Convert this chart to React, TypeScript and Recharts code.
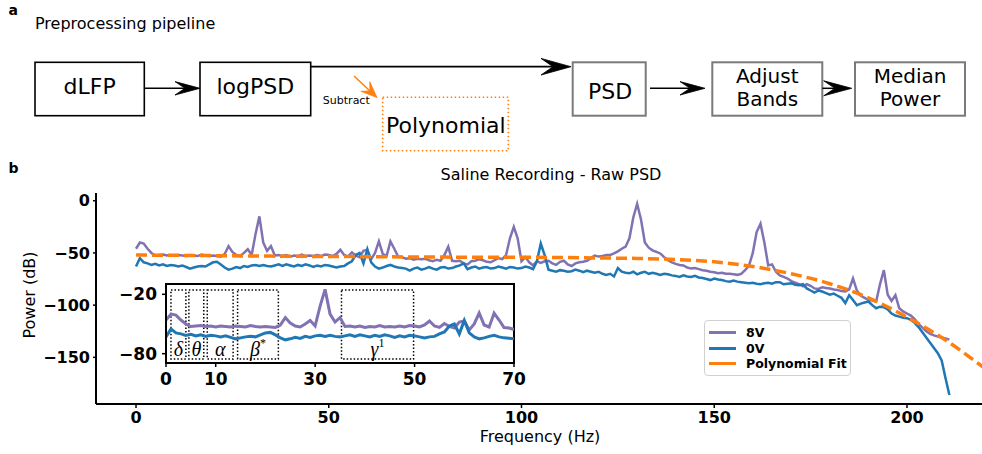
import { Legend, Line, LineChart, ReferenceArea, XAxis, YAxis } from 'recharts';

// PSD values in dB, one per Hz (index = frequency)
const power8V = [
  -46, -40, -41, -46, -50, -52.5, -52, -51.5, -52.5, -52,
  -53, -52, -52.5, -53, -52, -52.5, -53, -51.5, -52.5, -53,
  -52.5, -53, -53.5, -51, -43.5, -49, -52, -53, -50, -46.5,
  -52, -32, -15, -40, -48, -43.5, -52.5, -52, -53, -52,
  -53.5, -52.5, -53, -51.5, -53, -52.5, -53, -52, -53, -51.5,
  -52, -53, -51, -47, -52, -53.5, -49.5, -52.5, -54, -48,
  -47, -56, -50, -39, -51, -53, -39, -46, -53.5, -54,
  -55.5, -55, -56.5, -55.5, -56, -55.5, -57, -58, -56.5, -57.5,
  -52, -44, -57.5, -58, -57.5, -60, -61, -58, -57.5, -56,
  -57, -58.5, -59, -57, -55, -56, -52, -36, -25, -36,
  -58, -54, -59, -62, -58, -59.5, -58, -57.5, -60, -61.5,
  -58.5, -57.5, -61, -62.5, -60, -59, -58.5, -57.5, -55, -52.5,
  -53.5, -53, -52, -52, -50.5, -48.5, -46, -44, -36, -16,
  -3, -18, -40, -45, -47.5, -49, -50.5, -54, -57, -59,
  -60.5, -61.5, -62, -64, -65, -64.5, -65.5, -66.5, -67, -68,
  -68.5, -69.5, -69, -70, -70, -70.5, -71, -70, -66.5, -62.5,
  -50, -30, -22, -40, -62, -61, -68, -71.5, -73, -74.5,
  -77, -78.5, -80, -82, -80, -81.5, -84, -84.5, -83, -83.5,
  -84, -85, -85.5, -86.5, -87, -85, -74.5, -86, -91, -93,
  -95, -95.5, -96.5, -80, -66.5, -90, -96, -90.5, -103, -106,
  -108, -110, -113.5, -118, -121.5, -125, -127.5, -129, -130, -131,
  -132, -133,
];

const power0V = [
  -63, -55, -59, -60, -61.5, -60.5, -62, -61, -62.5, -61.5,
  -62, -63, -62, -63.5, -65, -64, -63, -62.5, -63, -61,
  -59, -58.5, -61, -64, -66, -65, -63.5, -64.5, -62.5, -63.5,
  -62, -61.5, -62.5, -61.5, -62.5, -63, -62, -61, -62.5, -61,
  -62, -63, -61.5, -62.5, -61, -62, -63.5, -62, -63, -61.5,
  -62, -63, -64, -63, -62.5, -60, -58, -52, -50, -60,
  -46.5, -59, -63, -65, -64, -62.5, -61.5, -63, -64, -64.5,
  -65, -67, -65, -64, -66, -65, -63.5, -65, -66, -64,
  -63.5, -65, -64.5, -63, -62, -60, -65.5, -64, -63, -65,
  -64, -63.5, -65, -64.5, -63, -64, -65, -63.5, -64, -65,
  -64.5, -63, -64, -65.5, -58, -41, -52, -66, -67, -68,
  -66.5, -67, -68, -67.5, -66, -67, -68.5, -67, -68, -69,
  -68, -70, -71, -70, -72.5, -64.5, -68, -69, -69.5, -68,
  -70.5, -69, -68, -70, -69, -70, -71, -70, -70.5, -71.5,
  -72, -73, -71.5, -72.5, -73, -72, -73.5, -74, -75, -76,
  -74.5, -75.5, -76, -77, -77.5, -76.5, -77.5, -78, -78.5, -79,
  -78.5, -79.5, -80, -79, -78.5, -79.5, -78, -78, -80, -79.5,
  -79, -80.5, -81, -80, -84, -86, -88, -86, -87, -88.5,
  -90, -89, -91, -93, -98, -90.5, -95, -100, -98.5, -97.5,
  -96.5, -100, -103, -101.5, -102, -104, -108, -110, -111, -112,
  -112.5, -114, -117, -121, -126, -131, -136, -141, -146, -153,
  -170, -186,
];

const fitHz = [0, 10, 20, 30, 40, 50, 60, 70, 80, 90, 100, 110, 120, 130, 140, 150, 160, 170, 180, 190, 200, 210, 220];
const fitDb = [-52, -52.3, -52.6, -52.9, -53.2, -53.4, -53.6, -53.8, -54, -54.1, -54.2, -54.4, -54.8, -55.3, -56.3, -58.5, -63, -70, -79.5, -93, -111.5, -133.5, -160];

const mainTicksX = [0, 50, 100, 150, 200];
const mainTicksY = [0, -50, -100, -150];
const insetTicksX = [0, 10, 30, 50, 70];
const insetTicksY = [-20, -80];

const bandNames = ['δ', 'θ', 'α', 'β', 'γ'];
const bandSup = ['', '', '', '*', '1'];
const bandLo = [1, 4.6, 8.3, 14.4, 35.3];
const bandHi = [4, 7.6, 13.5, 22.6, 49.8];

const legendOrder = ['8V', '0V', 'Polynomial Fit'];

const PURPLE = '#8172b3';
const BLUE = '#1f77b4';
const ORANGE = '#ff7f0e';
const FONT = '"DejaVu Sans", sans-serif';

const psd = power8V.map((v, i) => ({ hz: i, v8: v, v0: power0V[i] }));
const fit = fitHz.map((hz, i) => ({ hz, fit: fitDb[i] }));
const insetPsd = psd.filter((d) => d.hz <= 70);

const fmt = (v: number) => (v < 0 ? `\u2212${-v}` : `${v}`);

function LegendBox({ payload }: any) {
  const items = [...(payload ?? [])].sort(
    (a: any, b: any) => legendOrder.indexOf(a.value) - legendOrder.indexOf(b.value),
  );
  return (
    <div
      style={{
        width: 147,
        height: 56,
        boxSizing: 'border-box',
        border: '1px solid #d0d0d0',
        borderRadius: 4,
        background: '#fff',
        padding: '4px 0 0 4px',
      }}
    >
      {items.map((p: any) => (
        <div key={p.value} style={{ display: 'flex', alignItems: 'center', height: 15.5 }}>
          <span style={{ width: 27, height: 3, background: p.color, marginRight: 10 }} />
          <span style={{ font: `bold 12.5px ${FONT}`, color: '#000', whiteSpace: 'nowrap' }}>{p.value}</span>
        </div>
      ))}
    </div>
  );
}

const bandLabel = (i: number) => (p: any) => {
  const { x, y, width, height } = p.viewBox;
  return (
    <text
      x={x + width / 2}
      y={y + height - 3.5}
      textAnchor="middle"
      fontFamily='"Liberation Serif", serif'
      fontStyle="italic"
      fontSize={20}
      fill="#000"
    >
      {bandNames[i]}
      {bandSup[i] && (
        <tspan fontSize={12} dy={-9} fontStyle="normal">
          {bandSup[i]}
        </tspan>
      )}
    </text>
  );
};

function arrow(x1: number, y1: number, x2: number, y2: number, len: number, half: number) {
  const d = Math.hypot(x2 - x1, y2 - y1);
  const ux = (x2 - x1) / d;
  const uy = (y2 - y1) / d;
  const bx = x2 - ux * len;
  const by = y2 - uy * len;
  const nx = x2 - ux * len * 0.6;
  const ny = y2 - uy * len * 0.6;
  return {
    shaft: `M${x1},${y1} L${nx},${ny}`,
    head: `M${x2},${y2} L${bx - uy * half},${by + ux * half} L${nx},${ny} L${bx + uy * half},${by - ux * half} Z`,
  };
}

function Arrow({ from, to, len, half, color = '#000', width = 1.5 }: any) {
  const a = arrow(from[0], from[1], to[0], to[1], len, half);
  return (
    <g>
      <path d={a.shaft} stroke={color} strokeWidth={width} fill="none" />
      <path d={a.head} fill={color} stroke={color} strokeWidth={0.8} strokeLinejoin="miter" />
    </g>
  );
}

// two-line box caption, tight line spacing like the reference
function TwoLine({ x, lines }: any) {
  return (
    <>
      <text x={x} y={82.5} fontFamily={FONT} fontSize={20} textAnchor="middle" fill="#000">{lines[0]}</text>
      <text x={x} y={105.8} fontFamily={FONT} fontSize={20} textAnchor="middle" fill="#000">{lines[1]}</text>
    </>
  );
}

function Pipeline() {
  const txt = { fontFamily: FONT, fontSize: 22, textAnchor: 'middle' as const, fill: '#000' };
  return (
    <svg width={982} height={454} style={{ position: 'absolute', left: 0, top: 0 }}>
      <text x={8.5} y={15} fontFamily={FONT} fontWeight="bold" fontSize={14}>a</text>
      <text x={35} y={29} fontFamily={FONT} fontSize={16}>Preprocessing pipeline</text>

      <rect x={35} y={62.3} width={109.3} height={53.4} fill="none" stroke="#000" strokeWidth={1.6} />
      <text x={89.7} y={94} {...txt}>dLFP</text>
      <rect x={200} y={62.3} width={110.7} height={53.4} fill="none" stroke="#000" strokeWidth={1.6} />
      <text x={255.3} y={93.5} {...txt}>logPSD</text>

      <rect x={572.7} y={62.3} width={73} height={53.4} fill="none" stroke="#7a7a7a" strokeWidth={2} />
      <text x={610} y={99} {...txt}>PSD</text>
      <rect x={712.3} y={62.3} width={110} height={53.4} fill="none" stroke="#7a7a7a" strokeWidth={2} />
      <TwoLine x={767.3} lines={['Adjust', 'Bands']} />
      <rect x={855} y={62.3} width={110} height={53.4} fill="none" stroke="#7a7a7a" strokeWidth={2} />
      <TwoLine x={910} lines={['Median', 'Power']} />

      <rect x={382.7} y={97.3} width={125.6} height={53.4} fill="none" stroke={ORANGE} strokeWidth={1.6} strokeDasharray="1.5 2.5" />
      <text x={445.8} y={133.3} {...txt}>Polynomial</text>
      <text x={346.3} y={104} fontFamily={FONT} fontSize={11} textAnchor="middle">Subtract</text>

      <Arrow from={[144.3, 88.3]} to={[200, 88.3]} len={25} half={6.7} />
      <Arrow from={[310.7, 66.7]} to={[571, 66.7]} len={30} half={8.3} width={1.8} />
      <Arrow from={[650, 88.3]} to={[705, 88.3]} len={25} half={6.7} />
      <Arrow from={[822.3, 88.3]} to={[851.7, 88.3]} len={28} half={7.5} />
      <Arrow from={[354, 76]} to={[377, 97.5]} len={16} half={6.5} color={ORANGE} />

      <text x={8.5} y={172.7} fontFamily={FONT} fontWeight="bold" fontSize={14}>b</text>
      <text x={551} y={180} fontFamily={FONT} fontSize={16} textAnchor="middle">Saline Recording - Raw PSD</text>
      <text x={540} y={442} fontFamily={FONT} fontSize={16} textAnchor="middle">Frequency (Hz)</text>
      <text x={35} y={295} fontFamily={FONT} fontSize={16} textAnchor="middle" transform="rotate(-90 35 295)">
        Power (dB)
      </text>
    </svg>
  );
}

const mainTick = { fill: '#000', fontSize: 16, fontWeight: 'bold', fontFamily: FONT };
const insetTick = { fill: '#000', fontSize: 17, fontWeight: 'bold', fontFamily: FONT };
const axisLine = { stroke: '#000', strokeWidth: 2 };
const tickLine = { stroke: '#000', strokeWidth: 1.5 };

export default function App() {
  return (
    <div style={{ position: 'absolute', left: 0, top: 0, width: 982, height: 454, background: '#fff', overflow: 'hidden' }}>
      <Pipeline />

      <div style={{ position: 'absolute', left: 0, top: 0 }}>
        <LineChart width={982} height={454} data={psd} margin={{ top: 193, right: 0, bottom: 0, left: 0 }}>
          <XAxis
            type="number"
            dataKey="hz"
            domain={[-10.38, 219.46]}
            allowDataOverflow
            ticks={mainTicksX}
            interval={0}
            height={50}
            tickSize={4}
            tickMargin={4}
            axisLine={axisLine}
            tickLine={tickLine}
            tick={mainTick}
            tickFormatter={fmt}
          />
          <YAxis
            type="number"
            domain={[-194.7, 7.4]}
            allowDataOverflow
            ticks={mainTicksY}
            interval={0}
            width={96}
            tickSize={3}
            tickMargin={3}
            axisLine={axisLine}
            tickLine={tickLine}
            tick={mainTick}
            tickFormatter={fmt}
          />
          <Line dataKey="v8" name="8V" stroke={PURPLE} strokeWidth={2.5} dot={false} isAnimationActive={false} />
          <Line dataKey="v0" name="0V" stroke={BLUE} strokeWidth={2.5} dot={false} isAnimationActive={false} />
          <Line
            data={fit}
            dataKey="fit"
            name="Polynomial Fit"
            type="monotone"
            stroke={ORANGE}
            strokeWidth={3.5}
            strokeDasharray="11 5"
            dot={false}
            isAnimationActive={false}
          />
          <Legend
            layout="vertical"
            align="center"
            verticalAlign="middle"
            content={LegendBox}
            wrapperStyle={{ left: 704, top: 320, width: 147, height: 56 }}
          />
        </LineChart>
      </div>

      <div
        style={{
          position: 'absolute',
          left: 165,
          top: 283,
          width: 350,
          height: 81,
          boxSizing: 'border-box',
          border: '2px solid #000',
          background: '#fff',
        }}
      />

      <div style={{ position: 'absolute', left: 100, top: 270 }}>
        <LineChart width={430} height={130} data={insetPsd} margin={{ top: 14, right: 16, bottom: 0, left: 0 }}>
          <XAxis
            type="number"
            dataKey="hz"
            domain={[0, 70]}
            allowDataOverflow
            ticks={insetTicksX}
            interval={0}
            height={37}
            tickSize={4}
            tickMargin={6}
            axisLine={axisLine}
            tickLine={tickLine}
            tick={insetTick}
          />
          <YAxis
            type="number"
            domain={[-89.4, -9.6]}
            allowDataOverflow
            ticks={insetTicksY}
            interval={0}
            width={66}
            tickSize={4}
            tickMargin={5}
            axisLine={axisLine}
            tickLine={tickLine}
            tick={insetTick}
            tickFormatter={fmt}
          />
          {bandNames.map((_, i) => (
            <ReferenceArea
              key={i}
              x1={bandLo[i]}
              x2={bandHi[i]}
              y1={-85.4}
              y2={-15.7}
              fill="none"
              stroke="#000"
              strokeWidth={1.5}
              strokeDasharray="1.5 2"
              label={bandLabel(i)}
            />
          ))}
          <Line dataKey="v8" stroke={PURPLE} strokeWidth={3} dot={false} isAnimationActive={false} />
          <Line dataKey="v0" stroke={BLUE} strokeWidth={3} dot={false} isAnimationActive={false} />
        </LineChart>
      </div>
    </div>
  );
}
